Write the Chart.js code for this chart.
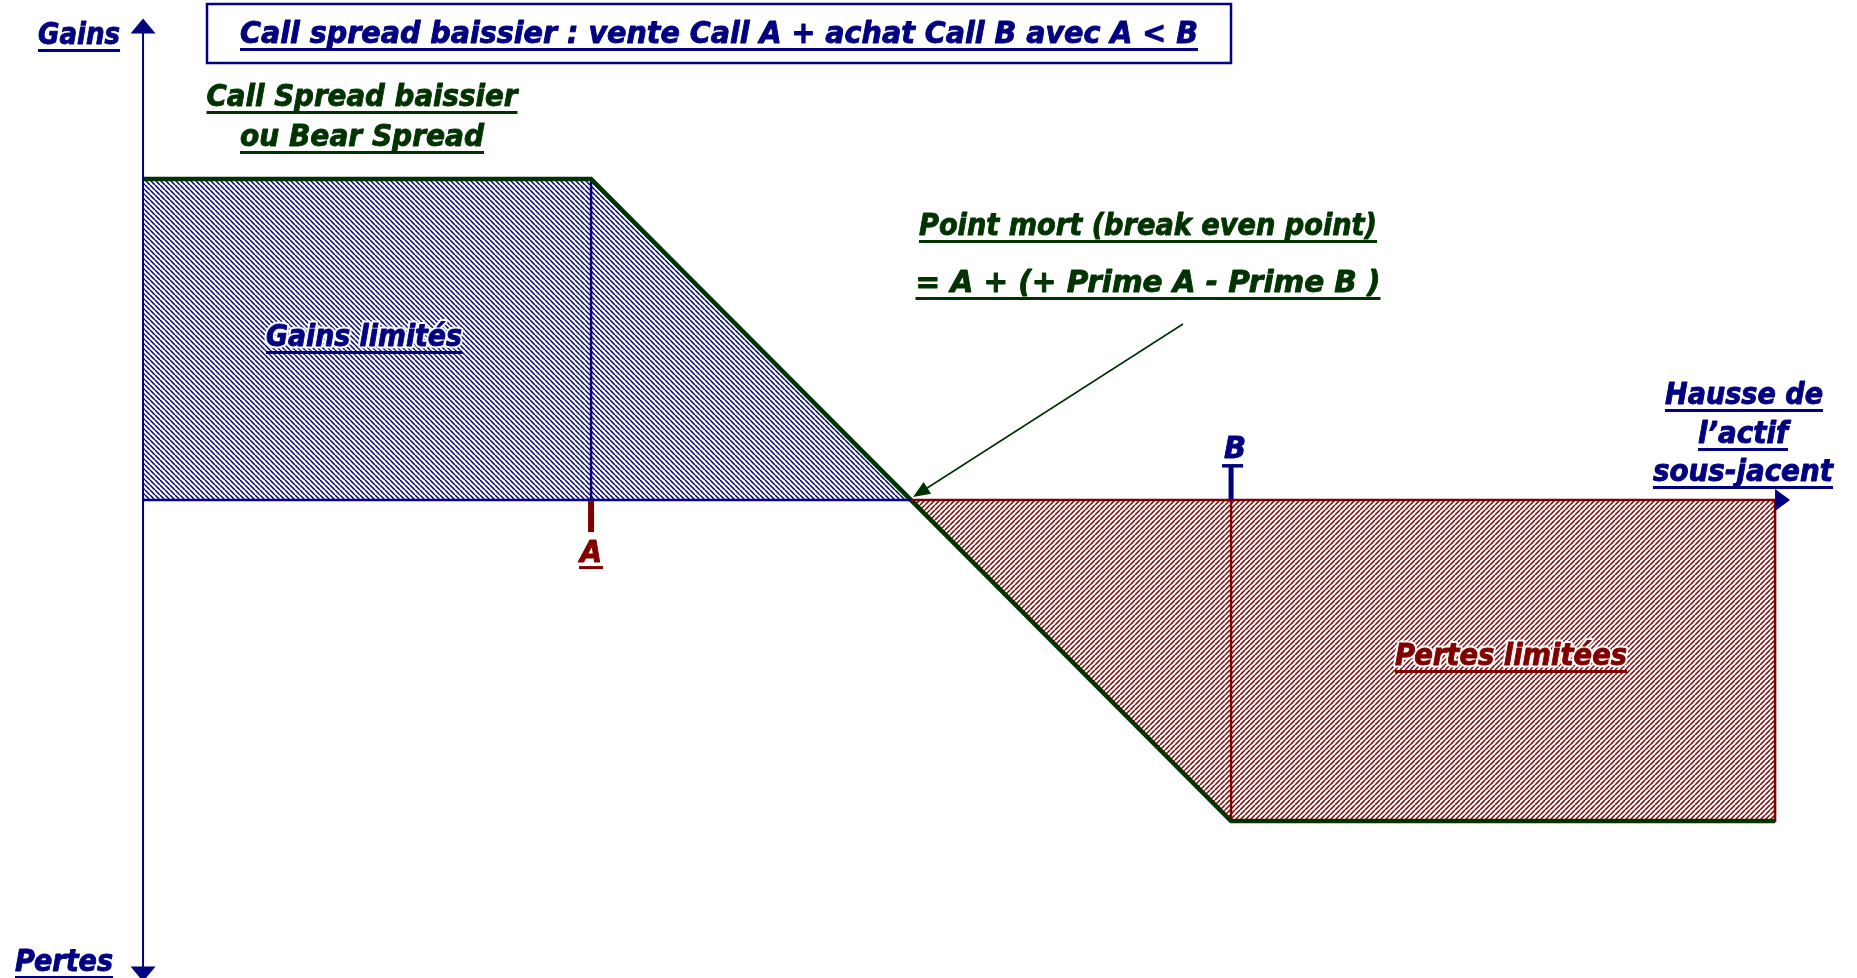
<!DOCTYPE html>
<html>
<head>
<meta charset="utf-8">
<script src="https://cdn.jsdelivr.net/npm/chart.js@4.4.0/dist/chart.umd.min.js"></script>
<style>
  html, body { margin: 0; padding: 0; background: #fff; }
  #wrap { width: 1857px; height: 978px; position: relative; }
</style>
</head>
<body>
<div id="wrap"><canvas id="bearSpread"></canvas></div>
<script>
// payoff of the bear call spread (x = underlying, y = gain / loss)
var payoffX = [0, 1.4, 2.4, 3.4, 5.1];
var payoffY = [1, 1, 0, -1, -1];
var strikeLabels = ["A", "B"];
var strikeValues = [1.4, 3.4];
var breakEven = 2.4;
var maxGain = 1;
var maxLoss = -1;

var navy = "#000080";
var green = "#003300";
var darkRed = "#800000";

function hatch(color, dir) {
  var s = 5;
  var c = document.createElement("canvas");
  c.width = s; c.height = s;
  var g = c.getContext("2d");
  g.fillStyle = "#fff";
  g.fillRect(0, 0, s, s);
  g.strokeStyle = color;
  g.lineWidth = 1.5;
  g.beginPath();
  for (var k = -1; k <= 1; k++) {
    if (dir === "\\") { g.moveTo(k * s, 0); g.lineTo(k * s + s, s); }
    else { g.moveTo(k * s, s); g.lineTo(k * s + s, 0); }
  }
  g.stroke();
  return g.createPattern(c, "repeat");
}

var gainPts = [], lossPts = [], payoffPts = [];
for (var i = 0; i < payoffX.length; i++) {
  payoffPts.push({x: payoffX[i], y: payoffY[i]});
  if (payoffY[i] >= 0) gainPts.push({x: payoffX[i], y: payoffY[i]});
  if (payoffY[i] <= 0) lossPts.push({x: payoffX[i], y: payoffY[i]});
}
lossPts.push({x: payoffX[payoffX.length - 1], y: 0});

// texts: pixel positions on the 1857x978 page
var labels = [
  {text: "Gains", x: 79, y: 44, w: 82, color: navy},
  {text: "Call spread baissier : vente Call A + achat Call B avec A < B", x: 719, y: 43, w: 958, color: navy},
  {text: "Call Spread baissier", x: 362, y: 106, w: 311, color: green},
  {text: "ou Bear Spread", x: 362, y: 146, w: 244, color: green},
  {text: "Gains limités", x: 364, y: 346, w: 196, color: navy, halo: true},
  {text: "Point mort (break even point)", x: 1148, y: 235, w: 458, color: green},
  {text: "= A + (+ Prime A - Prime B )", x: 1148, y: 292, w: 465, color: green},
  {text: "Hausse de", x: 1744, y: 404, w: 158, color: navy},
  {text: "l\u2019actif", x: 1743, y: 443, w: 90, color: navy},
  {text: "sous-jacent", x: 1743, y: 481, w: 180, color: navy},
  {text: "Pertes limitées", x: 1511, y: 665, w: 232, color: darkRed, halo: true},
  {text: "Pertes", x: 64, y: 971, w: 98, color: navy}
];

function drawLabel(ctx, t, noLine) {
  ctx.save();
  ctx.font = 'italic bold 31px "DejaVu Sans Condensed", "DejaVu Sans"';
  var mw = ctx.measureText(t.text).width;
  ctx.translate(t.x, t.y);
  ctx.scale(t.w / mw, 1);
  ctx.textAlign = "center";
  ctx.textBaseline = "alphabetic";
  ctx.lineJoin = "round";
  if (t.halo) {
    ctx.strokeStyle = "rgba(255,255,255,0.95)";
    ctx.lineWidth = 5;
    ctx.strokeText(t.text, 0, 0);
  }
  ctx.fillStyle = t.color;
  ctx.strokeStyle = t.color;
  ctx.lineWidth = 0.9;
  ctx.fillText(t.text, 0, 0);
  ctx.strokeText(t.text, 0, 0);
  ctx.restore();
  if (!noLine) {
    ctx.fillStyle = t.color;
    ctx.fillRect(t.x - t.w / 2, t.y + 5, t.w, 3);
  }
}

function tri(ctx, ax, ay, bx, by, cx, cy, color) {
  ctx.fillStyle = color;
  ctx.beginPath();
  ctx.moveTo(ax, ay); ctx.lineTo(bx, by); ctx.lineTo(cx, cy);
  ctx.closePath();
  ctx.fill();
}

var decor = {
  id: "decor",
  afterDatasetsDraw: function(chart) {
    var ctx = chart.ctx, xs = chart.scales.x, ys = chart.scales.y;
    var x0 = xs.getPixelForValue(0), y0 = ys.getPixelForValue(0);
    var xEnd = xs.getPixelForValue(payoffX[payoffX.length - 1]);
    var xBE = xs.getPixelForValue(breakEven);
    var yTop = ys.getPixelForValue(1.5), yBot = ys.getPixelForValue(-1.5);
    ctx.save();
    // zero line
    ctx.lineWidth = 2.5;
    ctx.strokeStyle = navy;
    ctx.beginPath(); ctx.moveTo(x0, y0); ctx.lineTo(xBE, y0); ctx.stroke();
    ctx.strokeStyle = darkRed;
    ctx.beginPath(); ctx.moveTo(xBE, y0); ctx.lineTo(xEnd, y0); ctx.stroke();
    // vertical axis with arrows
    ctx.lineWidth = 2;
    ctx.strokeStyle = navy;
    ctx.beginPath(); ctx.moveTo(x0, yTop + 10); ctx.lineTo(x0, yBot - 10); ctx.stroke();
    tri(ctx, x0, yTop, x0 - 12.5, yTop + 15, x0 + 12.5, yTop + 15, navy);
    tri(ctx, x0, yBot, x0 - 12.5, yBot - 15, x0 + 12.5, yBot - 15, navy);
    // horizontal arrow
    tri(ctx, xEnd + 15, y0, xEnd, y0 - 11, xEnd, y0 + 11, navy);
    // strike ticks
    var xA = xs.getPixelForValue(strikeValues[0]);
    var xB = xs.getPixelForValue(strikeValues[1]);
    ctx.fillStyle = darkRed;
    ctx.fillRect(xA - 3, y0 + 1, 6, 31);
    ctx.fillStyle = navy;
    ctx.fillRect(xB - 2.5, y0 - 35, 5, 34);
    ctx.fillRect(xB - 9, y0 - 36, 21, 3.5);
    drawLabel(ctx, {text: strikeLabels[0], x: xA, y: y0 + 62, w: 22, color: darkRed}, true);
    ctx.fillStyle = darkRed;
    ctx.fillRect(xA - 12, y0 + 66, 24, 3);
    drawLabel(ctx, {text: strikeLabels[1], x: xB + 4, y: y0 - 42, w: 22, color: navy}, true);
    // break-even arrow
    var tx = xBE + 2, ty = y0 - 3, sx = 1183, sy = 324;
    var ang = Math.atan2(ty - sy, tx - sx);
    ctx.strokeStyle = green;
    ctx.lineWidth = 1.6;
    ctx.beginPath(); ctx.moveTo(sx, sy);
    ctx.lineTo(tx - 14 * Math.cos(ang), ty - 14 * Math.sin(ang)); ctx.stroke();
    var bx = tx - 17 * Math.cos(ang), by = ty - 17 * Math.sin(ang);
    tri(ctx, tx, ty,
      bx + 7 * Math.sin(ang), by - 7 * Math.cos(ang),
      bx - 7 * Math.sin(ang), by + 7 * Math.cos(ang), green);
    // title box
    ctx.strokeStyle = navy;
    ctx.lineWidth = 2.5;
    ctx.strokeRect(207, 4, 1024, 59);
    labels.forEach(function(t) { drawLabel(ctx, t); });
    ctx.restore();
  }
};

new Chart(document.getElementById("bearSpread"), {
  type: "scatter",
  data: {
    datasets: [
      {
        label: "Payoff",
        data: payoffPts,
        showLine: true,
        borderColor: green,
        borderWidth: 4.5,
        pointRadius: 0,
        fill: false,
        order: 0
      },
      {
        label: "Strike A",
        data: [{x: strikeValues[0], y: 0}, {x: strikeValues[0], y: maxGain}],
        showLine: true,
        borderColor: navy,
        borderWidth: 2.5,
        pointRadius: 0,
        fill: false,
        order: 1
      },
      {
        label: "Strike B",
        data: [{x: strikeValues[1], y: 0}, {x: strikeValues[1], y: maxLoss}],
        showLine: true,
        borderColor: darkRed,
        borderWidth: 2.5,
        pointRadius: 0,
        fill: false,
        order: 1
      },
      {
        label: "Gains limités",
        data: gainPts,
        showLine: true,
        borderColor: navy,
        borderWidth: 2,
        backgroundColor: hatch(navy, "\\"),
        pointRadius: 0,
        fill: "origin",
        order: 2
      },
      {
        label: "Pertes limitées",
        data: lossPts,
        showLine: true,
        borderColor: darkRed,
        borderWidth: 2.5,
        backgroundColor: hatch(darkRed, "/"),
        pointRadius: 0,
        fill: "origin",
        order: 2
      }
    ]
  },
  options: {
    responsive: true,
    maintainAspectRatio: false,
    animation: false,
    layout: {padding: 0},
    plugins: {legend: {display: false}, tooltip: {enabled: false}, title: {display: false}},
    scales: {
      x: {type: "linear", display: false, min: -0.447, max: 5.356},
      y: {type: "linear", display: false, min: -1.489, max: 1.558}
    }
  },
  plugins: [decor]
});
</script>
</body>
</html>
